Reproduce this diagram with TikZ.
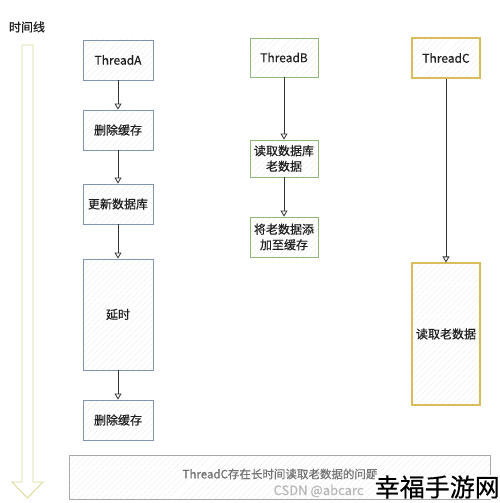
\documentclass[tikz,border=0pt]{standalone}
\usepackage{fontspec}
\setmainfont{Noto Sans CJK SC}[FakeBold=0.5,BoldFont=Noto Sans CJK SC]
\usetikzlibrary{arrows.meta,patterns.meta}
\definecolor{cA}{HTML}{8096B0}
\definecolor{cB}{HTML}{8DBA78}
\definecolor{cC}{HTML}{D9BC5C}
\definecolor{cT}{HTML}{DEDA98}
\definecolor{cG}{HTML}{A8A8A8}
\definecolor{txt}{HTML}{1E1E1E}
\tikzset{
  x=1pt,y=-1pt,
  hatch/.style={pattern={Lines[angle=45,distance=4pt,line width=0.4pt]},pattern color=black!9},
  boxbase/.style={draw,line width=0.9pt,inner sep=1pt,align=center,font=\bfseries\fontsize{12}{15.5}\selectfont,text=txt},
  boxA/.style={boxbase,draw=cA,minimum width=70pt},
  boxB/.style={boxbase,draw=cB,minimum width=68pt},
  boxC/.style={boxbase,draw=cC,line width=1.1pt,minimum width=68pt},
  conn/.style={draw=black!80,line width=0.8pt,-{Triangle[open,length=6pt,width=7pt]}},
}
\begin{document}
\begin{tikzpicture}
\useasboundingbox (0,0) rectangle (500,503);
\fill[white] (0,0) rectangle (500,503);
% timeline
\node[font=\bfseries\fontsize{12}{14}\selectfont,text=txt] (tl) at (27,27) {时间线};
\draw[cT,line width=0.9pt,fill=white] (22,45) -- (33,45) -- (33,482) -- (43,482) -- (27.5,498) -- (12,482) -- (22,482) -- cycle;
% column A
\foreach \cx/\cy/\h in {118/60/40, 118/130/40, 118/204/40, 118/314.5/111, 118/420/40}
  \path[hatch] (\cx-35,\cy-\h/2) rectangle (\cx+35,\cy+\h/2);
\node[boxA,minimum height=40pt] (tA) at (118,60) {ThreadA};
\node[boxA,minimum height=40pt] (a1) at (118,130) {删除缓存};
\node[boxA,minimum height=40pt] (a2) at (118,204) {更新数据库};
\node[boxA,minimum height=111pt] (a3) at (118,314.5) {延时};
\node[boxA,minimum height=40pt] (a4) at (118,420) {删除缓存};
% column B
\foreach \cx/\cy/\h in {284/57.5/39, 284/158.5/37, 284/237/40}
  \path[hatch] (\cx-34,\cy-\h/2) rectangle (\cx+34,\cy+\h/2);
\node[boxB,minimum height=39pt] (tB) at (284,57.5) {ThreadB};
\node[boxB,minimum height=37pt] (b1) at (284,158.5) {读取数据库\\老数据};
\node[boxB,minimum height=40pt] (b2) at (284,237) {将老数据添\\加至缓存};
% column C
\foreach \cx/\cy/\h in {446/58/40, 446/334/142}
  \path[hatch] (\cx-34,\cy-\h/2) rectangle (\cx+34,\cy+\h/2);
\node[boxC,minimum height=40pt] (tC) at (446,58) {ThreadC};
\node[boxC,minimum height=142pt] (c1) at (446,334) {读取老数据};
% connectors
\draw[conn] (tA) -- (a1);
\draw[conn] (a1) -- (a2);
\draw[conn] (a2) -- (a3);
\draw[conn] (a3) -- (a4);
\draw[conn] (tB) -- (b1);
\draw[conn] (b1) -- (b2);
\draw[conn] (tC) -- (c1);
% bottom note
\path[hatch] (69,455) rectangle (490,499);
\node[draw=cG,line width=0.8pt,minimum width=421pt,minimum height=44pt,inner sep=0pt] (note) at (279.5,477) {};
\node[text=black!55,font=\fontsize{11.5}{13}\selectfont] (notetxt) at (280,474) {ThreadC存在长时间读取老数据的问题};
% watermarks
\node[text=black!28,font=\fontsize{13}{15}\selectfont,anchor=west] (wm1) at (270,491) {CSDN @abcarc};
\node[fill=white,inner sep=0pt,text=black,font=\fontsize{25}{28}\selectfont,anchor=east] (wm2) at (500,487) {幸福手游网};
\end{tikzpicture}
\end{document}
